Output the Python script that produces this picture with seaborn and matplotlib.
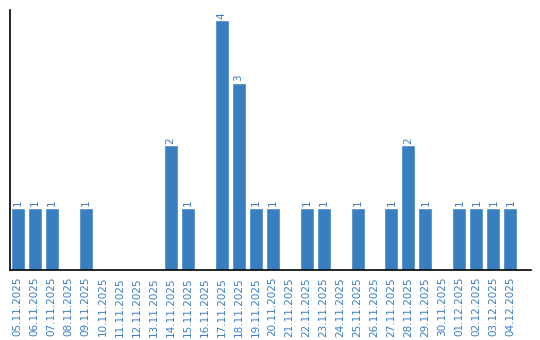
import matplotlib
matplotlib.use("Agg")
import matplotlib.pyplot as plt
import seaborn as sns
import pandas as pd

dates = ["05.11.2025","06.11.2025","07.11.2025","08.11.2025","09.11.2025","10.11.2025",
         "11.11.2025","12.11.2025","13.11.2025","14.11.2025","15.11.2025","16.11.2025",
         "17.11.2025","18.11.2025","19.11.2025","20.11.2025","21.11.2025","22.11.2025",
         "23.11.2025","24.11.2025","25.11.2025","26.11.2025","27.11.2025","28.11.2025",
         "29.11.2025","30.11.2025","01.12.2025","02.12.2025","03.12.2025","04.12.2025"]
counts = [1,1,1,0,1,0,0,0,0,2,1,0,4,3,1,1,0,1,1,0,1,0,1,2,1,0,1,1,1,1]

df = pd.DataFrame({"date": dates, "count": counts})

sns.set_style("white")
plt.rcParams['font.family'] = ['DejaVu Sans']
blue = "#3a7ec2"

fig = plt.figure(figsize=(5.4, 3.4), dpi=100)
ax = fig.add_axes([10/540, 70/340, 520.5/540, 260/340])
sns.barplot(data=df, x="date", y="count", color=blue, saturation=1, width=0.824, ax=ax)
ax.set_xlim(-0.45, 30.18)
ax.set_ylim(0, 4.16)
ax.set_xlabel("")
ax.set_ylabel("")
ax.set_yticks([])
ax.tick_params(axis="x", labelrotation=90, labelsize=7.5, colors=blue, length=0, pad=5)
for lbl in ax.get_xticklabels():
    lbl.set_color(blue)
for s in ["top", "right"]:
    ax.spines[s].set_visible(False)
for s in ["left", "bottom"]:
    ax.spines[s].set_color("black")
    ax.spines[s].set_linewidth(1.2)
for i, v in enumerate(counts):
    if v > 0:
        ax.text(i, v + 0.02, str(v), rotation=90, ha="center", va="bottom",
                fontsize=7.5, color=blue)
fig.savefig("out.png", dpi=100)
